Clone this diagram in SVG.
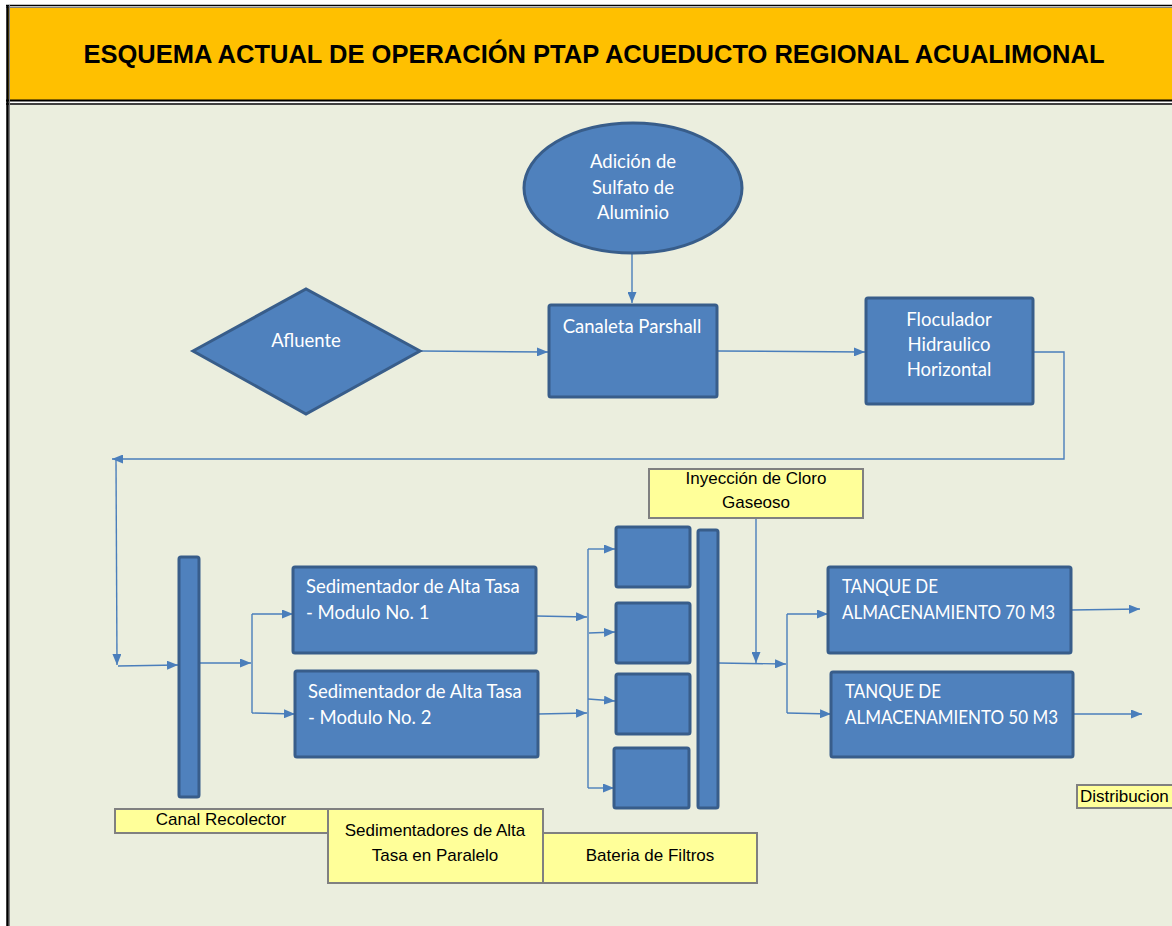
<svg xmlns="http://www.w3.org/2000/svg" width="1172" height="926" viewBox="0 0 1172 926">
<style>
.box{fill:#4F81BD;stroke:#385D8A;stroke-width:3}
.lbl{fill:#FFFF99;stroke:#808080;stroke-width:2}
.wt{font-family:Lato,"Open Sans",sans-serif;font-size:18.5px;fill:#FFFFFF}
.bt{font-family:"Liberation Sans",Arial,sans-serif;font-size:17px;fill:#000000}
.cn{fill:none;stroke:#4A7EBB;stroke-width:1.4}
.ttl{font-family:"Liberation Sans",Arial,sans-serif;font-size:25.5px;font-weight:bold;fill:#000}
</style>
<defs>
<marker id="ah" markerWidth="11" markerHeight="9" refX="11" refY="4.5" orient="auto" markerUnits="userSpaceOnUse">
<path d="M0,0 L11,4.5 L0,9 z" fill="#4A7EBB"/>
</marker>
</defs>
<rect x="0" y="0" width="1172" height="926" fill="#FFFFFF"/>
<g id="header">
<rect x="8" y="8" width="1164" height="92" fill="#FFC000"/>
<line x1="6" y1="5.5" x2="1172" y2="5.5" stroke="#000" stroke-width="1.5"/>
<line x1="6" y1="7.5" x2="1172" y2="7.5" stroke="#808080" stroke-width="1"/>
<line x1="6" y1="100.5" x2="1172" y2="100.5" stroke="#000" stroke-width="2"/>
<line x1="6" y1="104" x2="1172" y2="104" stroke="#000" stroke-width="1.5"/>
<text class="ttl" x="594" y="63" text-anchor="middle">ESQUEMA ACTUAL DE OPERACIÓN PTAP ACUEDUCTO REGIONAL ACUALIMONAL</text>
</g>
<rect x="9" y="105" width="1163" height="821" fill="#EBEEDE"/>
<line x1="7.5" y1="5" x2="7.5" y2="926" stroke="#000" stroke-width="2.5"/>
<line x1="9.5" y1="5" x2="9.5" y2="926" stroke="#808080" stroke-width="1"/>

<g id="connectors">
<path class="cn" d="M420,351 L548,352" marker-end="url(#ah)"/>
<path class="cn" d="M632,254 L632,303" marker-end="url(#ah)"/>
<path class="cn" d="M717,351 L865,352" marker-end="url(#ah)"/>
<path class="cn" d="M1033,352 H1064 V459 H112" marker-end="url(#ah)"/>
<path class="cn" d="M116,460 L117,665" marker-end="url(#ah)"/>
<path class="cn" d="M118,666 L178,665" marker-end="url(#ah)"/>
<path class="cn" d="M199,663 L251,663" marker-end="url(#ah)"/>
<path class="cn" d="M252,614 V713"/>
<path class="cn" d="M252,614 H293" marker-end="url(#ah)"/>
<path class="cn" d="M252,713 L295,714" marker-end="url(#ah)"/>
<path class="cn" d="M536,616 L587,617" marker-end="url(#ah)"/>
<path class="cn" d="M538,714 L587,713" marker-end="url(#ah)"/>
<path class="cn" d="M588,549 V788"/>
<path class="cn" d="M588,549 H615" marker-end="url(#ah)"/>
<path class="cn" d="M589,633 L615,632" marker-end="url(#ah)"/>
<path class="cn" d="M588,699 L615,701" marker-end="url(#ah)"/>
<path class="cn" d="M588,788 H614" marker-end="url(#ah)"/>
<path class="cn" d="M718,663 L786,664" marker-end="url(#ah)"/>
<path class="cn" d="M756,518 V663" marker-end="url(#ah)"/>
<path class="cn" d="M787,614 V713"/>
<path class="cn" d="M787,614 H828" marker-end="url(#ah)"/>
<path class="cn" d="M787,713 L831,714" marker-end="url(#ah)"/>
<path class="cn" d="M1071,610 L1140,609" marker-end="url(#ah)"/>
<path class="cn" d="M1073,714 L1142,714" marker-end="url(#ah)"/>
</g>

<g id="sulfato">
<ellipse class="box" cx="633" cy="188" rx="109" ry="65"/>
<text class="wt" x="633" text-anchor="middle"><tspan x="633" y="168">Adición de</tspan><tspan x="633" y="194">Sulfato de</tspan><tspan x="633" y="219">Aluminio</tspan></text>
</g>
<g id="afluente">
<polygon class="box" points="193,351 306,289 420,351 306,414"/>
<text class="wt" x="306" y="347" text-anchor="middle">Afluente</text>
</g>
<g id="canaleta">
<rect class="box" x="549" y="305" width="168" height="92" rx="2"/>
<text class="wt" x="632" y="333" text-anchor="middle">Canaleta Parshall</text>
</g>
<g id="floculador">
<rect class="box" x="866" y="298" width="167" height="106" rx="2"/>
<text class="wt" text-anchor="middle"><tspan x="949" y="326">Floculador</tspan><tspan x="949" y="351">Hidraulico</tspan><tspan x="949" y="376">Horizontal</tspan></text>
</g>
<g id="canal">
<rect class="box" x="179" y="557" width="20" height="240" rx="2"/>
</g>
<g id="sed1">
<rect class="box" x="293" y="567" width="243" height="86" rx="2"/>
<text class="wt"><tspan x="306" y="593">Sedimentador de Alta Tasa</tspan><tspan x="306" y="619">- Modulo No. 1</tspan></text>
</g>
<g id="sed2">
<rect class="box" x="295" y="671" width="243" height="86" rx="2"/>
<text class="wt"><tspan x="308" y="698">Sedimentador de Alta Tasa</tspan><tspan x="308" y="724">- Modulo No. 2</tspan></text>
</g>
<g id="filtro1"><rect class="box" x="616" y="527" width="74" height="60" rx="2"/></g>
<g id="filtro2"><rect class="box" x="616" y="603" width="74" height="60" rx="2"/></g>
<g id="filtro3"><rect class="box" x="616" y="674" width="74" height="60" rx="2"/></g>
<g id="filtro4"><rect class="box" x="614" y="748" width="75" height="60" rx="2"/></g>
<g id="colector-filtros"><rect class="box" x="698" y="530" width="20" height="278" rx="2"/></g>
<g id="tanque70">
<rect class="box" x="828" y="567" width="243" height="86" rx="2"/>
<text class="wt" x="842" y="593" textLength="96" lengthAdjust="spacingAndGlyphs">TANQUE DE</text>
<text class="wt" x="842" y="619" textLength="213" lengthAdjust="spacingAndGlyphs">ALMACENAMIENTO 70 M3</text>
</g>
<g id="tanque50">
<rect class="box" x="831" y="672" width="242" height="85" rx="2"/>
<text class="wt" x="845" y="698" textLength="96" lengthAdjust="spacingAndGlyphs">TANQUE DE</text>
<text class="wt" x="845" y="724" textLength="213" lengthAdjust="spacingAndGlyphs">ALMACENAMIENTO 50 M3</text>
</g>

<g id="lbl-cloro">
<rect class="lbl" x="649" y="469" width="214" height="49"/>
<text class="bt" text-anchor="middle"><tspan x="756" y="484">Inyección de Cloro</tspan><tspan x="756" y="508">Gaseoso</tspan></text>
</g>
<g id="lbl-canal">
<rect class="lbl" x="115" y="809" width="218" height="24"/>
<text class="bt" x="221" y="825" text-anchor="middle">Canal Recolector</text>
</g>
<g id="lbl-bateria">
<rect class="lbl" x="543" y="833" width="214" height="50"/>
<text class="bt" x="650" y="861" text-anchor="middle">Bateria de Filtros</text>
</g>
<g id="lbl-sed">
<rect class="lbl" x="328" y="809" width="215" height="74"/>
<text class="bt" text-anchor="middle"><tspan x="435" y="836">Sedimentadores de Alta</tspan><tspan x="435" y="861">Tasa en Paralelo</tspan></text>
</g>
<g id="lbl-distribucion">
<rect class="lbl" x="1077" y="785" width="100" height="23"/>
<text class="bt" x="1080" y="802">Distribucion</text>
</g>
</svg>
